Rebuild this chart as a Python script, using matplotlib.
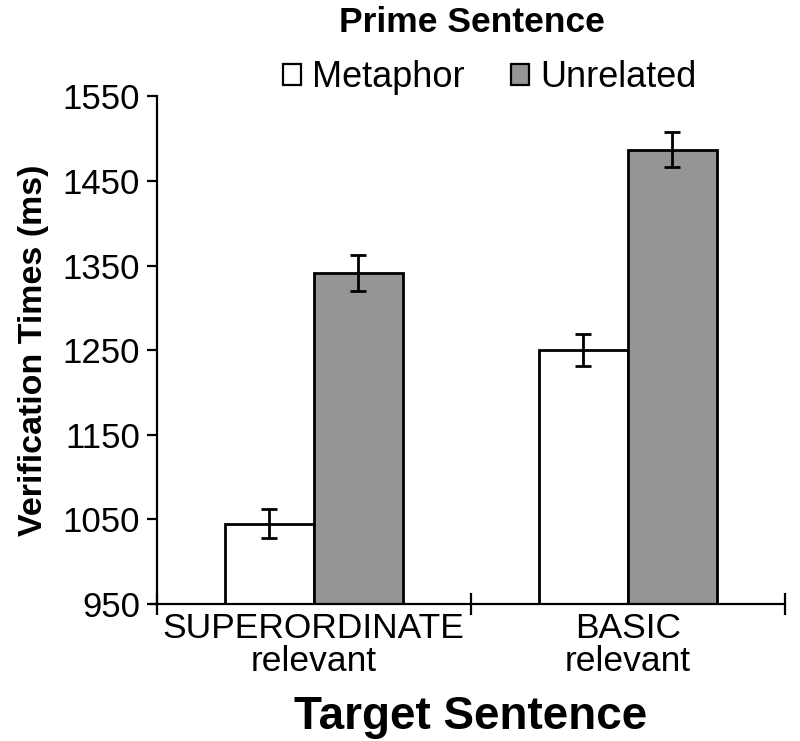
import numpy as np
import matplotlib.pyplot as plt

plt.rcParams['font.family'] = ['Liberation Sans', 'DejaVu Sans']

# data
categories = ['SUPERORDINATE\nrelevant', 'BASIC\nrelevant']
metaphor = [1045, 1250]
metaphor_err = [17, 19]
unrelated = [1341, 1487]
unrelated_err = [21, 21]
y_ticks = [950, 1050, 1150, 1250, 1350, 1450, 1550]

fig = plt.figure(figsize=(8, 7.41), dpi=100)
ax = fig.add_axes([0.196, 0.185, 0.785, 0.685])

x = np.arange(len(categories))
w = 0.283
err_kw = dict(ecolor='black', elinewidth=2.0, capsize=5.5, capthick=2.0)
ax.bar(x - w / 2, metaphor, w, yerr=metaphor_err, color='white',
       edgecolor='black', linewidth=2.0, error_kw=err_kw, label='Metaphor', zorder=2)
ax.bar(x + w / 2, unrelated, w, yerr=unrelated_err, color='#959595',
       edgecolor='black', linewidth=2.0, error_kw=err_kw, label='Unrelated', zorder=2)

ax.set_xlim(-0.5, 1.5)
ax.set_ylim(950, 1550)
ax.set_yticks(y_ticks)
ax.tick_params(axis='y', labelsize=25, length=7, width=1.6, direction='out', pad=5)

# category boundaries as crossing ticks, labels centred on the groups
ax.set_xticks([-0.5, 0.5, 1.5])
ax.set_xticklabels([])
ax.tick_params(axis='x', which='major', direction='inout', length=16, width=1.6)
ax.set_xticks(x, minor=True)
ax.set_xticklabels(categories, minor=True)
ax.tick_params(axis='x', which='minor', length=0, labelsize=25.5, pad=6)
for lab in ax.get_xticklabels(minor=True):
    lab.set_linespacing(1.0)

for s in ['top', 'right']:
    ax.spines[s].set_visible(False)
ax.spines['left'].set_linewidth(1.6)
ax.spines['bottom'].set_linewidth(1.6)
ax.spines['bottom'].set_bounds(-0.52, 1.5)

ax.set_ylabel('Verification Times (ms)', fontsize=24.5, fontweight='bold', labelpad=10)
ax.set_xlabel('Target Sentence', fontsize=33, fontweight='bold', labelpad=12)

fig.text(0.59, 0.97, 'Prime Sentence', fontsize=25.5, fontweight='bold',
         ha='center', va='center')
leg = ax.legend(loc='center', bbox_to_anchor=(0.53, 1.037), ncol=2, frameon=False,
                fontsize=26, handlelength=0.5, handleheight=0.5, handletextpad=0.3,
                columnspacing=1.3, borderaxespad=0)
for h in leg.legend_handles:
    h.set_linewidth(1.6)

fig.savefig('out.png', dpi=100)
